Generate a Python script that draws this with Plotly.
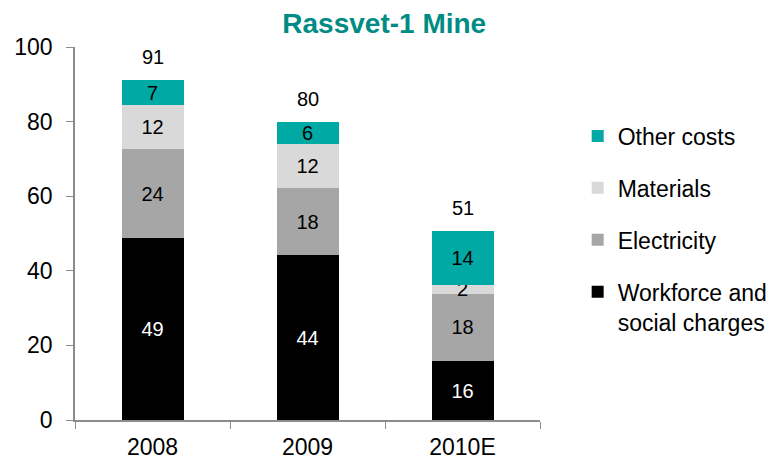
import plotly.graph_objects as go

categories = ["2008", "2009", "2010E"]
workforce = [48.8, 44.2, 15.7]
electricity = [23.8, 18.0, 18.2]
materials = [11.8, 11.8, 2.3]
other = [6.8, 5.8, 14.4]
totals = [91, 80, 51]

series = [
    ("Workforce and<br>social charges", workforce, "#000000", "white"),
    ("Electricity", electricity, "#A6A6A6", "black"),
    ("Materials", materials, "#D9D9D9", "black"),
    ("Other costs", other, "#00A9A4", "black"),
]

FONT = "Liberation Sans, Arial, sans-serif"

fig = go.Figure()
for i, (name, vals, color, tcolor) in enumerate(series):
    fig.add_trace(go.Bar(
        x=categories, y=vals, name=name,
        marker=dict(color=color, line=dict(width=0)),
        texttemplate="%{y:.0f}", textposition="inside", insidetextanchor="middle",
        textangle=0, constraintext="none",
        textfont=dict(color=tcolor, size=20, family=FONT),
        legendgroup=str(i), legendrank=1000 - i,
    ))

stack_tops = [w + e + m + o for w, e, m, o in zip(workforce, electricity, materials, other)]
for idx, (top, t) in enumerate(zip(stack_tops, totals)):
    fig.add_annotation(x=idx, y=top, text=str(t), showarrow=False, yshift=23,
                       font=dict(size=20, color="black", family=FONT))

fig.update_layout(
    barmode="stack",
    bargap=0.6,
    width=771, height=459,
    margin=dict(l=67, r=239, t=39, b=47, autoexpand=False),
    paper_bgcolor="white", plot_bgcolor="white",
    font=dict(family=FONT, size=24, color="black"),
    title=dict(text="<b>Rassvet-1 Mine</b>", x=0.488, xref="container", xanchor="center",
               y=0.967, yref="container", yanchor="middle",
               font=dict(size=28, color="#008C84", family=FONT)),
    legend=dict(x=1.081, xanchor="left", y=0.819, yanchor="top",
                traceorder="grouped", tracegroupgap=19, valign="top",
                font=dict(size=23, family=FONT),
                itemwidth=30, borderwidth=0),
)
fig.update_xaxes(type="category", range=[-0.5, 2.5], showline=True, linecolor="#8C8C8C", linewidth=1.5,
                 ticks="outside", tickson="boundaries", ticklen=7, tickcolor="#8C8C8C",
                 tickfont=dict(size=23), ticklabelstandoff=6, automargin=False)
fig.update_yaxes(range=[0, 100], dtick=20, showgrid=False, zeroline=False,
                 showline=True, linecolor="#8C8C8C", linewidth=1.5,
                 ticks="outside", ticklen=7, tickcolor="#8C8C8C",
                 tickfont=dict(size=23), ticklabelstandoff=9, automargin=False)

fig.write_html("out.html")
